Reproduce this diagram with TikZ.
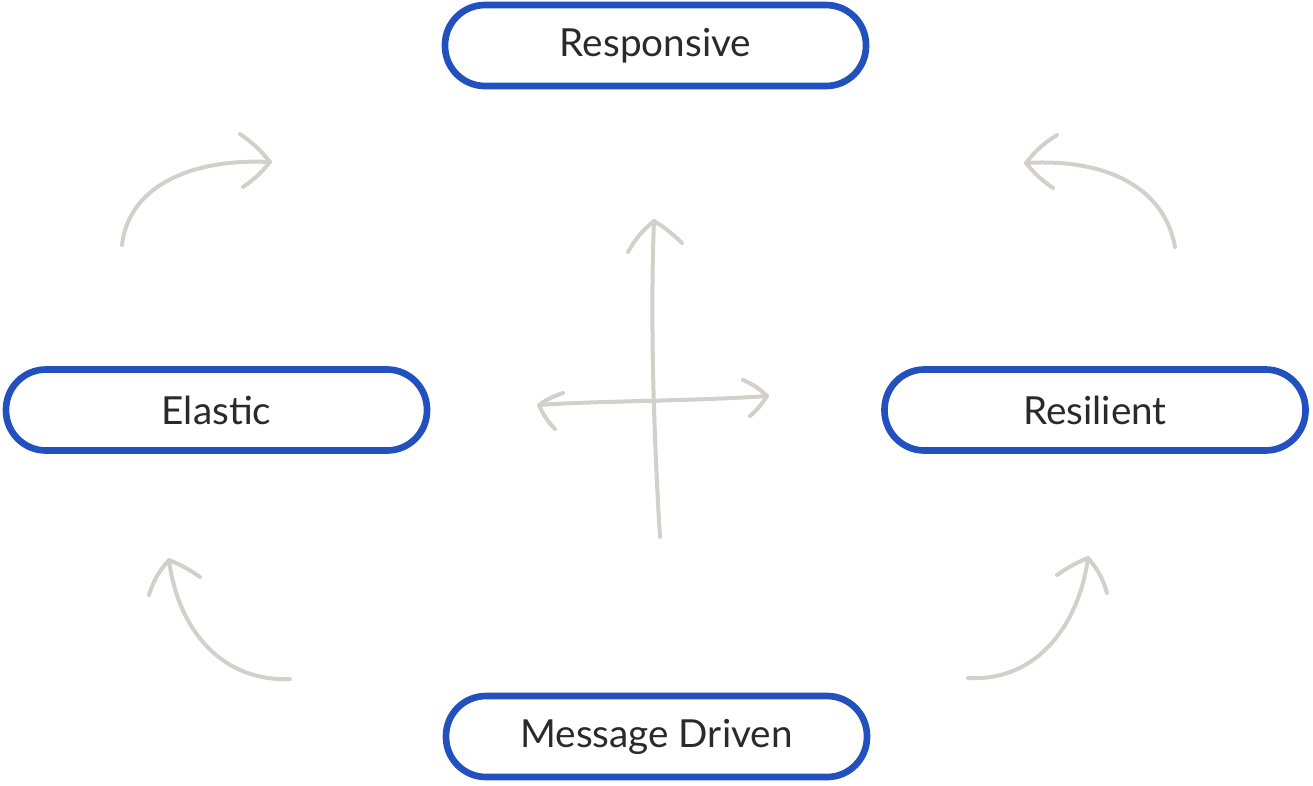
\documentclass[tikz,border=0pt]{standalone}
\usepackage{fontspec}
\setmainfont{Lato}
\definecolor{reactblue}{HTML}{2250BE}
\definecolor{sketchgray}{HTML}{D3D0CA}
\definecolor{inktext}{HTML}{2A2A2A}

\tikzset{
    trait/.style={draw=reactblue, line width=5pt, rounded corners=30pt,
        minimum width=315.75pt, minimum height=60.75pt, inner sep=0pt,
        text=inktext, font=\fontsize{29}{32}\selectfont},
    sketch/.style={draw=sketchgray, line width=3pt, line cap=round, line join=round}
}

\begin{document}
\begin{tikzpicture}[x=0.75pt, y=-0.75pt]
\useasboundingbox (0,0) rectangle (1313,785);

% the four boxes
\node[trait] (responsive) at (655.5,45.5) {Responsive};
\node[trait] (elastic) at (216.5,410) {Elastic};
\node[trait] (resilient) at (1095,410) {Resilient};
\node[trait] (message) at (656.5,736.5) {Message Driven};

% corner arrows
\coordinate (tlStart) at (122,245);
\coordinate (tlTip) at (270,162);
\draw[sketch] (tlStart) .. controls (128,190) and (185,158) .. (tlTip);
\draw[sketch] (240,134) to[bend left=8] (tlTip) to[bend left=8] (243,187);

\coordinate (trStart) at (1175,247);
\coordinate (trTip) at (1026,163);
\draw[sketch] (trStart) .. controls (1165,190) and (1110,158) .. (trTip);
\draw[sketch] (1057,135) to[bend right=10] (trTip) to[bend right=8] (1053,188);

\coordinate (blStart) at (290,679);
\coordinate (blTip) at (169,560);
\draw[sketch] (blStart) .. controls (222,682) and (178,630) .. (blTip);
\draw[sketch] (149,595) to[bend left=12] (blTip) to[bend left=6] (200,577);

\coordinate (brStart) at (968,678);
\coordinate (brTip) at (1088,558);
\draw[sketch] (brStart) .. controls (1040,682) and (1080,620) .. (brTip);
\draw[sketch] (1057,575) to[bend left=6] (brTip) to[bend left=12] (1107,593);

% the cross in the middle
\coordinate (upTip) at (654,221);
\coordinate (downEnd) at (660,537);
\coordinate (leftTip) at (539,405);
\coordinate (rightTip) at (767,396);
\draw[sketch] (downEnd) .. controls (654,440) and (650,320) .. (upTip);
\draw[sketch] (628,252) to[bend left=10] (upTip) to[bend left=6] (682,243);
\draw[sketch] (leftTip) .. controls (590,401) and (700,401) .. (rightTip);
\draw[sketch] (563,393) to[bend right=8] (leftTip) to[bend right=10] (555,429);
\draw[sketch] (743,380) to[bend left=10] (rightTip) to[bend left=8] (750,416);
\end{tikzpicture}
\end{document}
